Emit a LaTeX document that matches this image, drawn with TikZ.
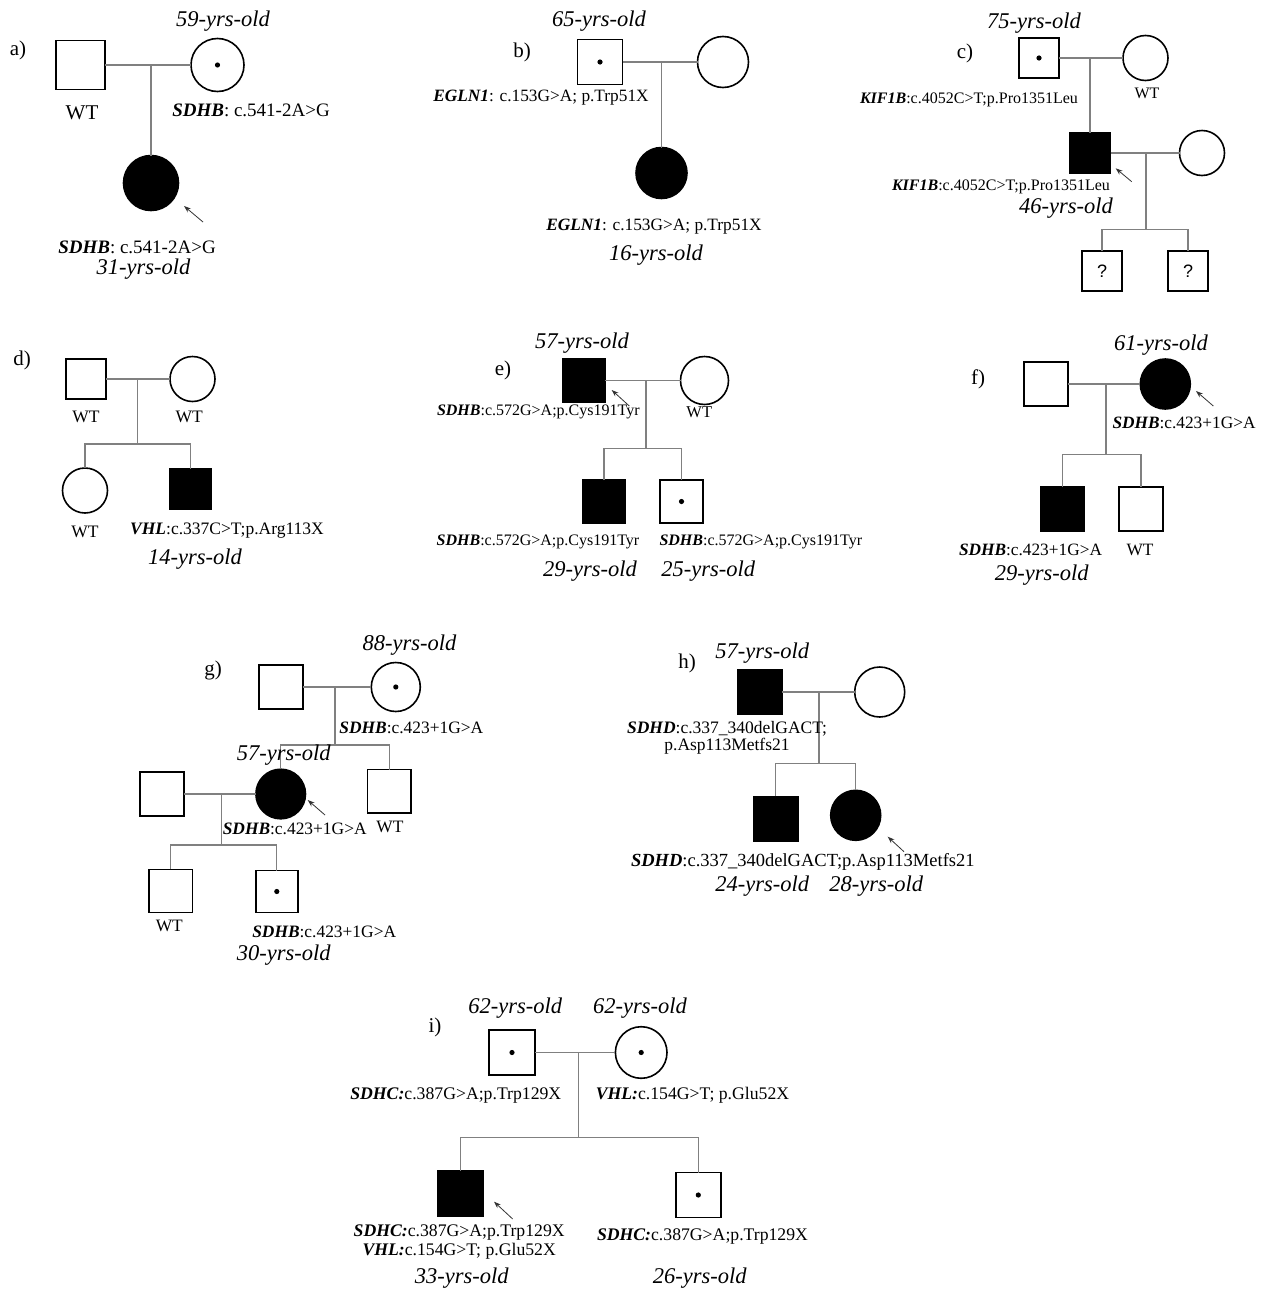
\documentclass[tikz,border=0pt]{standalone}
\usepackage{fontspec}
\setmainfont{Liberation Serif}
\newfontfamily\sansq{Liberation Sans}
\usetikzlibrary{arrows.meta}
\newcommand{\gn}[1]{\textbf{\textit{#1}}}
\newcommand{\fsz}[1]{\fontsize{#1}{#1}\selectfont}
\begin{document}
\begin{tikzpicture}[x=1pt,y=-1pt,
  sym/.style={draw=black, line width=1.6pt, fill=white, inner sep=0pt, outer sep=0pt},
  malesym/.style={sym, rectangle, minimum size=#1pt},
  femsym/.style={sym, circle, minimum size=#1pt},
  aff/.style={fill=black},
  carrier/.style={path picture={\fill[black] (path picture bounding box.center) circle[radius=2.6pt];}},
  rel/.style={draw=black!50, line width=1.1pt},
  arr/.style={draw=black!80, line width=0.8pt, -{Stealth[length=7pt,width=5pt]}},
  txt/.style={inner sep=0pt, font=\fsz{#1}},
  age/.style={inner sep=0pt, font=\fsz{22.5}\itshape},
  plab/.style={inner sep=0pt, font=\fsz{21}},
  qm/.style={font=\sansq\fsz{18}},
]
\fill[white] (0,0) rectangle (1275,1293);
\useasboundingbox (0,0) rectangle (1275,1293);

% ---------------- a) ----------------
\node[plab] (a-p) at (18,50) {a)};
\node[age] (a-age1) at (223,21) {59-yrs-old};
\node[malesym=49] (a1) at (80.5,65) {};
\node[femsym=53, carrier] (a2) at (217.5,65) {};
\node[femsym=55, aff] (a3) at (151,183) {};
\coordinate (aj) at (151,65);
\draw[rel] (a1) -- (a2);
\draw[rel] (aj) -- (a3);
\node[txt=21] (a-wt) at (82,113) {WT};
\node[txt=19] (a-l1) at (251,110) {\gn{SDHB}: c.541-2A>G};
\coordinate (a-as) at (203,222);
\coordinate (a-ae) at (184,206);
\draw[arr] (a-as) -- (a-ae);
\node[txt=19] (a-l2) at (137,247) {\gn{SDHB}: c.541-2A>G};
\node[age] (a-age2) at (143.5,269) {31-yrs-old};

% ---------------- b) ----------------
\node[plab] (b-p) at (522,52) {b)};
\node[age] (b-age1) at (599,21) {65-yrs-old};
\node[malesym=45, carrier] (b1) at (600,62) {};
\node[femsym=51] (b2) at (723,62) {};
\coordinate (bj) at (661.5,62);
\node[femsym=51, aff] (b3) at (661.5,173) {};
\draw[rel] (b1) -- (b2);
\draw[rel] (bj) -- (b3);
\node[txt=17.3] (b-l1) at (541,98) {\gn{EGLN1}: c.153G>A; p.Trp51X};
\node[txt=17.3] (b-l2) at (654,227) {\gn{EGLN1}: c.153G>A; p.Trp51X};
\node[age] (b-age2) at (656,255) {16-yrs-old};

% ---------------- c) ----------------
\node[plab] (c-p) at (965,53) {c)};
\node[age] (c-age1) at (1034,23) {75-yrs-old};
\node[malesym=40, carrier] (c1) at (1039,58) {};
\node[femsym=45] (c2) at (1145.5,58) {};
\coordinate (cj) at (1090,58);
\node[malesym=41, aff] (c3) at (1090,153) {};
\node[femsym=45] (c4) at (1202,153) {};
\coordinate (cj2) at (1146,153);
\coordinate (cbar) at (1146,229.5);
\node[malesym=40, qm] (c5) at (1102,271) {?};
\node[malesym=40, qm] (c6) at (1188,271) {?};
\draw[rel] (c1) -- (c2);
\draw[rel] (cj) -- (c3);
\draw[rel] (c3) -- (c4);
\draw[rel] (cj2) -- (cbar);
\draw[rel] (c5.north) |- (cbar) -| (c6.north);
\node[txt=16] (c-wt) at (1147,93) {WT};
\node[txt=16] (c-l1) at (969,100) {\gn{KIF1B}:c.4052C>T;p.Pro1351Leu};
\node[txt=16] (c-l2) at (1001,187) {\gn{KIF1B}:c.4052C>T;p.Pro1351Leu};
\node[age] (c-age2) at (1066,208) {46-yrs-old};
\coordinate (c-as) at (1131.7,181.7);
\coordinate (c-ae) at (1115.7,168.3);
\draw[arr] (c-as) -- (c-ae);

% ---------------- d) ----------------
\node[plab] (d-p) at (22,360) {d)};
\node[malesym=40] (d1) at (86,379) {};
\node[femsym=45] (d2) at (192.5,379) {};
\coordinate (dj) at (137.3,379);
\coordinate (dbar) at (137.3,444);
\node[femsym=45] (d3) at (85,490.5) {};
\node[malesym=41, aff] (d4) at (190.3,489) {};
\draw[rel] (d1) -- (d2);
\draw[rel] (dj) -- (dbar);
\draw[rel] (d3.north) |- (dbar) -| (d4.north);
\node[txt=17.5] (d-wt1) at (86,417) {WT};
\node[txt=17.5] (d-wt2) at (189.3,417) {WT};
\node[txt=17.5] (d-wt3) at (85,532) {WT};
\node[txt=17.5] (d-l1) at (227,531) {\gn{VHL}:c.337C>T;p.Arg113X};
\node[age] (d-age) at (195,559) {14-yrs-old};

% ---------------- e) ----------------
\node[plab] (e-p) at (503,370) {e)};
\node[age] (e-age1) at (582,343) {57-yrs-old};
\node[malesym=42.5, aff] (e1) at (583.7,380.5) {};
\node[femsym=48] (e2) at (704.5,380.5) {};
\coordinate (ej) at (646,380.5);
\coordinate (ebar) at (646,448.3);
\node[malesym=43, aff] (e3) at (604,501.5) {};
\node[malesym=42.5, carrier] (e4) at (681.5,501.5) {};
\draw[rel] (e1) -- (e2);
\draw[rel] (ej) -- (ebar);
\draw[rel] (e3.north) |- (ebar) -| (e4.north);
\node[txt=16.5] (e-wt) at (699.3,412) {WT};
\coordinate (e-as) at (629.3,406);
\coordinate (e-ae) at (611.7,390);
\draw[arr] (e-as) -- (e-ae);
\node[txt=16] (e-l1) at (538.3,412) {\gn{SDHB}:c.572G>A;p.Cys191Tyr};
\node[txt=16] (e-l2) at (538,542.3) {\gn{SDHB}:c.572G>A;p.Cys191Tyr};
\node[txt=16] (e-l3) at (760.8,542.3) {\gn{SDHB}:c.572G>A;p.Cys191Tyr};
\node[age] (e-age2) at (590,571) {29-yrs-old};
\node[age] (e-age3) at (708.3,571) {25-yrs-old};

% ---------------- f) ----------------
\node[plab] (f-p) at (978,379) {f)};
\node[age] (f-age1) at (1161,345) {61-yrs-old};
\node[malesym=44] (f1) at (1045.8,384) {};
\node[femsym=50, aff] (f2) at (1165.3,384) {};
\coordinate (fj) at (1106,384);
\coordinate (fbar) at (1106,454.3);
\node[malesym=44, aff] (f3) at (1062.3,509) {};
\node[malesym=44] (f4) at (1141,509) {};
\draw[rel] (f1) -- (f2);
\draw[rel] (fj) -- (fbar);
\draw[rel] (f3.north) |- (fbar) -| (f4.north);
\coordinate (f-as) at (1213.3,406);
\coordinate (f-ae) at (1196,391);
\draw[arr] (f-as) -- (f-ae);
\node[txt=17.3] (f-l1) at (1184,423) {\gn{SDHB}:c.423+1G>A};
\node[txt=17.3] (f-l2) at (1030.5,550) {\gn{SDHB}:c.423+1G>A};
\node[txt=17.3] (f-wt) at (1140,550) {WT};
\node[age] (f-age2) at (1041.7,575) {29-yrs-old};

% ---------------- g) ----------------
\node[plab] (g-p) at (213,670) {g)};
\node[malesym=43.5] (g1) at (281,687) {};
\node[femsym=49, carrier] (g2) at (395.8,687) {};
\coordinate (gj) at (335,687);
\coordinate (gbar) at (335,745);
\node[femsym=49.6, aff] (g3) at (280.7,794) {};
\node[malesym=43.5] (g4) at (389.3,791.3) {};
\node[malesym=43.5] (g5) at (162,794) {};
\coordinate (gj2) at (221.7,794);
\coordinate (gbar2) at (221.7,845);
\node[malesym=43.3] (g6) at (170.7,891) {};
\node[malesym=42, carrier] (g7) at (276.8,891.5) {};
\draw[rel] (g1) -- (g2);
\draw[rel] (gj) -- (gbar);
\draw[rel] (g3.north) |- (gbar) -| (g4.north);
\draw[rel] (g5) -- (g3);
\draw[rel] (gj2) -- (gbar2);
\draw[rel] (g6.north) |- (gbar2) -| (g7.north);
\node[age] (g-age1) at (409.5,645) {88-yrs-old};
\node[age] (g-age2) at (283.8,755) {57-yrs-old};
\node[txt=17.4] (g-l1) at (411.3,728.3) {\gn{SDHB}:c.423+1G>A};
\node[txt=17.4] (g-l2) at (294.7,829.3) {\gn{SDHB}:c.423+1G>A};
\node[txt=17.4] (g-wt1) at (390,826.7) {WT};
\node[txt=17.4] (g-wt2) at (169.3,926) {WT};
\node[txt=17.4] (g-l3) at (324.2,931.7) {\gn{SDHB}:c.423+1G>A};
\node[age] (g-age3) at (283.8,955) {30-yrs-old};
\coordinate (g-as) at (325,815);
\coordinate (g-ae) at (307.7,800);
\draw[arr] (g-as) -- (g-ae);

% ---------------- h) ----------------
\node[plab] (h-p) at (687,663) {h)};
\node[age] (h-age1) at (762.3,653.3) {57-yrs-old};
\node[malesym=44.5, aff] (h1) at (759.8,692) {};
\node[femsym=50] (h2) at (879.7,692) {};
\coordinate (hj) at (819,692);
\coordinate (hbar) at (819,763.3);
\node[malesym=44.5, aff] (h3) at (775.7,818.7) {};
\node[femsym=50, aff] (h4) at (855.7,815.3) {};
\draw[rel] (h1) -- (h2);
\draw[rel] (hj) -- (hbar);
\draw[rel] (h3.north) |- (hbar) -| (h4.north);
\node[txt=17.5, align=center] (h-l1) at (727,738) {\gn{SDHD}:c.337\_340delGACT;\\p.Asp113Metfs21};
\node[txt=18.5] (h-l2) at (802.8,861.7) {\gn{SDHD}:c.337\_340delGACT;p.Asp113Metfs21};
\node[age] (h-age2) at (762.3,886) {24-yrs-old};
\node[age] (h-age3) at (876.3,886) {28-yrs-old};
\coordinate (h-as) at (904,851.7);
\coordinate (h-ae) at (887.7,836.7);
\draw[arr] (h-as) -- (h-ae);

% ---------------- i) ----------------
\node[plab] (i-p) at (435,1027) {i)};
\node[age] (i-age1) at (515.2,1008.3) {62-yrs-old};
\node[age] (i-age2) at (640,1008.3) {62-yrs-old};
\node[malesym=45.5, carrier] (i1) at (512,1052.5) {};
\node[femsym=51.6, carrier] (i2) at (641.2,1052.5) {};
\coordinate (ij) at (578.3,1052.5);
\coordinate (ibar) at (578.3,1137.3);
\node[malesym=45.5, aff] (i3) at (460.7,1193.5) {};
\node[malesym=45, carrier] (i4) at (698.3,1195) {};
\draw[rel] (i1) -- (i2);
\draw[rel] (ij) -- (ibar);
\draw[rel] (i3.north) |- (ibar) -| (i4.north);
\node[txt=17.7] (i-l1) at (455.8,1095) {\gn{SDHC:}c.387G>A;p.Trp129X};
\node[txt=17.7] (i-l2) at (692.5,1095) {\gn{VHL:}c.154G>T; p.Glu52X};
\node[txt=17.7, align=center] (i-l3) at (459.2,1242) {\gn{SDHC:}c.387G>A;p.Trp129X\\[1pt]\gn{VHL:}c.154G>T; p.Glu52X};
\node[txt=17.7] (i-l4) at (702.5,1236.7) {\gn{SDHC:}c.387G>A;p.Trp129X};
\node[age] (i-age3) at (461.7,1278.3) {33-yrs-old};
\node[age] (i-age4) at (699.8,1278.3) {26-yrs-old};
\coordinate (i-as) at (512.7,1219);
\coordinate (i-ae) at (494,1201.7);
\draw[arr] (i-as) -- (i-ae);
\end{tikzpicture}
\end{document}
